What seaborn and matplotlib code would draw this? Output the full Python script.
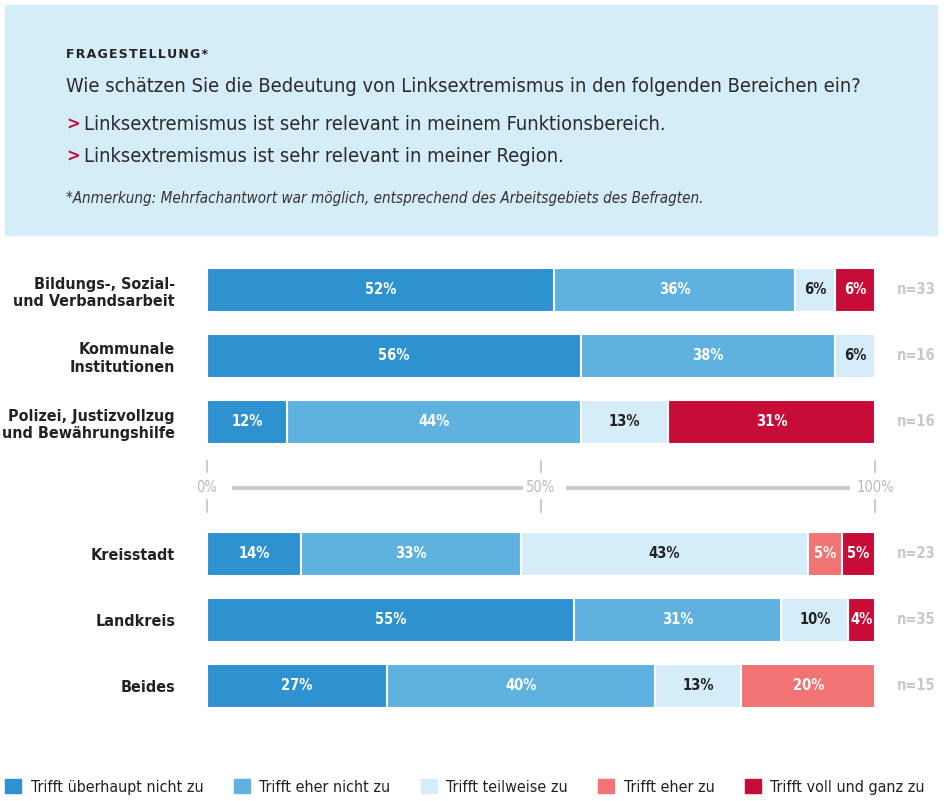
#!/usr/bin/env python3
"""
Stacked bar chart: Bedeutung von Linksextremismus nach Bereich / Region
"""

import pandas as pd
import matplotlib
matplotlib.use('Agg')
import matplotlib.pyplot as plt
import matplotlib.patches as mpatches
import seaborn as sns

# ---- data ----
rows = ['Bildungs-, Sozial-\nund Verbandsarbeit', 'Kommunale\nInstitutionen',
        'Polizei, Justizvollzug\nund Bewährungshilfe', 'Kreisstadt', 'Landkreis', 'Beides']
categories = ['Trifft überhaupt nicht zu', 'Trifft eher nicht zu', 'Trifft teilweise zu',
              'Trifft eher zu', 'Trifft voll und ganz zu']
ueberhaupt_nicht = [52, 56, 12, 14, 55, 27]
eher_nicht = [36, 38, 44, 33, 31, 40]
teilweise = [6, 6, 13, 43, 10, 13]
eher_zu = [0, 0, 0, 5, 0, 20]
voll_und_ganz = [6, 0, 31, 5, 4, 0]
n_values = [33, 16, 16, 23, 35, 15]
axis_ticks = [0, 50, 100]

colors = ['#2e92d0', '#5fb2df', '#d5ecf9', '#f27373', '#c70c37']
label_colors = ['white', 'white', '#222222', 'white', 'white']

# the gap row between the two blocks holds the 0-100% scale
order = rows[:3] + [' '] + rows[3:]

series = [ueberhaupt_nicht, eher_nicht, teilweise, eher_zu, voll_und_ganz]
df = pd.DataFrame({'row': rows})
for cat, vals in zip(categories, series):
    df[cat] = vals
cum = df[categories].cumsum(axis=1)

sns.set_theme(style='white')
plt.rcParams['font.family'] = ['DejaVu Sans']
plt.rcParams['font.stretch'] = 'condensed'

W, H = 947, 801
def fx(px): return px / W
def fy(py): return 1 - py / H

fig = plt.figure(figsize=(9.47, 8.01), dpi=100)

# header box
fig.patches.append(mpatches.Rectangle((fx(5), fy(235)), fx(937) - fx(5), 230 / H,
                                      transform=fig.transFigure, color='#d5ecf9', zorder=0))
fig.text(fx(66), fy(55), '\u200a'.join('FRAGESTELLUNG*'), fontsize=9, fontweight='bold',
         fontstretch='normal', color='#222222', va='center')
fig.text(fx(66), fy(86), 'Wie schätzen Sie die Bedeutung von Linksextremismus in den folgenden Bereichen ein?',
         fontsize=14.4, color='#2a2a2a', va='center')
for yy, txt in [(125, 'Linksextremismus ist sehr relevant in meinem Funktionsbereich.'),
                (157, 'Linksextremismus ist sehr relevant in meiner Region.')]:
    fig.text(fx(66), fy(yy), '>', fontsize=13, fontweight='bold', color='#c70c37', va='center')
    fig.text(fx(84), fy(yy), txt, fontsize=14.4, color='#2a2a2a', va='center')
fig.text(fx(66), fy(198),
         '*Anmerkung: Mehrfachantwort war möglich, entsprechend des Arbeitsgebiets des Befragten.',
         fontsize=10.9, style='italic', color='#333333', va='center')

# bars: cumulative totals drawn back to front
ax = fig.add_axes([fx(207), fy(719), fx(875) - fx(207), (719 - 257) / H])
for i in range(len(categories) - 1, -1, -1):
    plot_df = pd.DataFrame({'row': rows, 'value': cum[categories[i]]})
    sns.barplot(data=plot_df, x='value', y='row', order=order, color=colors[i],
                saturation=1, width=0.67, edgecolor='white', linewidth=1.5, ax=ax)

# labels inside segments and n on the right
for r, row in enumerate(rows):
    ypos = order.index(row)
    left = 0
    for i, cat in enumerate(categories):
        v = df.loc[r, cat]
        if v > 0:
            ax.text(left + v / 2, ypos, f'{v}%', ha='center', va='center',
                    fontsize=10.5, fontweight='bold', color=label_colors[i])
        left += v
    ax.text(103.2, ypos, f'n={n_values[r]}', ha='left', va='center', fontsize=10.5,
            fontweight='bold', color='#c8c8c8', clip_on=False)

# scale row
gap = order.index(' ')
for t in axis_ticks:
    ax.text(t, gap, f'{t}%', ha='center', va='center', fontsize=10.5, color='#bbbbbb')
    ax.plot([t, t], [gap - 0.41, gap - 0.24], color='#cccccc', lw=1.5, clip_on=False)
    ax.plot([t, t], [gap + 0.18, gap + 0.36], color='#cccccc', lw=1.5, clip_on=False)
ax.plot([3.7, 47.3], [gap, gap], color='#cccccc', lw=3, solid_capstyle='butt')
ax.plot([53.8, 96.2], [gap, gap], color='#cccccc', lw=3, solid_capstyle='butt')

ax.set_xlim(0, 100)
ax.set_ylim(len(order) - 0.5, -0.5)
ax.set_xlabel('')
ax.set_ylabel('')
ax.set_xticks([])
for s in ax.spines.values():
    s.set_visible(False)
ax.tick_params(axis='y', length=0, pad=23)
for lbl in ax.get_yticklabels():
    lbl.set_fontweight('bold')
    lbl.set_fontsize(11.5)
    lbl.set_color('#222222')
    lbl.set_multialignment('right')

# legend
handles = [mpatches.Patch(color=c, label=l) for c, l in zip(colors, categories)]
fig.legend(handles=handles, ncol=5, loc='center left', bbox_to_anchor=(fx(5), fy(787)),
           frameon=False, fontsize=11.5, handlelength=1.0, handleheight=1.0,
           handletextpad=0.6, columnspacing=1.9, borderpad=0, borderaxespad=0,
           labelcolor='#222222')

plt.savefig('out.png', dpi=100)
plt.close()
